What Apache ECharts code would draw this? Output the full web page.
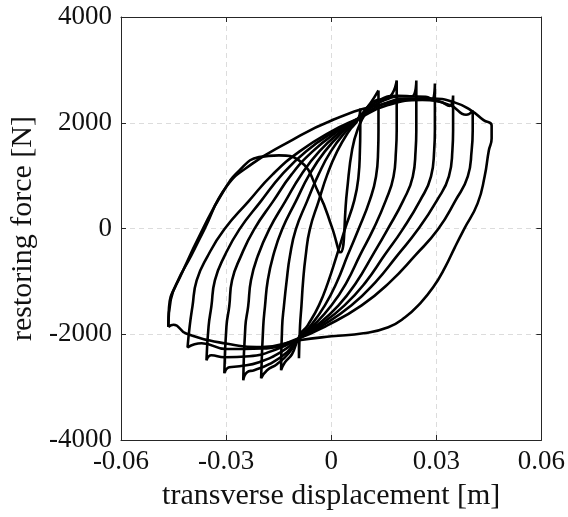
<!DOCTYPE html>
<html><head><meta charset="utf-8">
<script src="https://cdn.jsdelivr.net/npm/echarts@6/dist/echarts.min.js"></script>
<style>html,body{margin:0;padding:0;background:#fff}#c{width:568px;height:517px}</style>
</head><body><div id="c"></div>
<script>
// ---- Tick labels / titles ----
const xTickLabels = ['-0.06', '-0.03', '0', '0.03', '0.06'];
const yTickLabels = ['-4000', '-2000', '0', '2000', '4000'];
const xTitle = 'transverse displacement [m]';
const yTitle = 'restoring force [N]';

// ---- Outer loop (displacement [m], force [N]) ----
const outerUpper = [[-0.0465,-1860],[-0.0463,-1490],[-0.0440,-1020],[-0.0400,-520],[-0.0362,-16],[-0.0300,783],[-0.0225,1226],[-0.0130,1604],[0.0001,2044],[0.0154,2360],[0.0285,2460],[0.0350,2390],[0.0400,2230],[0.0435,2050],[0.0458,1950]];
const outerLower = [[0.0458,1950],[0.0458,1700],[0.0450,1477],[0.0438,985],[0.0418,475],[0.0379,-16],[0.0353,-356],[0.0325,-735],[0.0291,-1113],[0.0254,-1415],[0.0211,-1679],[0.0163,-1868],[0.0092,-1982],[0.0001,-2039],[-0.0092,-2114],[-0.0197,-2240],[-0.0300,-2176],[-0.0414,-1987],[-0.0450,-1820],[-0.0465,-1860]];

// ---- Initial transient path ----
const transient = [[-0.0465,-1860],[-0.0458,-1350],[-0.0430,-900],[-0.0368,-30],[-0.0308,700],[-0.0262,1099],[-0.0206,1350],[-0.0149,1383],[-0.0092,1288],[-0.0035,659],[0.0002,27],[0.0026,-450],[0.0045,700],[0.0060,1500],[0.0078,1917],[0.0100,2200]];

// ---- Right arcs: right turning point -> lower pinch ----
const rightArc1 = [[0.0404,2233],[0.0404,1855],[0.0401,1477],[0.0390,985],[0.0355,532],[0.0305,-16],[0.0240,-508],[0.0167,-1018],[0.0087,-1453],[-0.0011,-1831],[-0.0092,-2076]];
const rightArc2 = [[0.0348,2516],[0.0348,1855],[0.0346,1477],[0.0336,985],[0.0302,532],[0.0248,-16],[0.0189,-508],[0.0126,-1018],[0.0058,-1453],[-0.0024,-1831],[-0.0092,-2076]];
const rightArc3 = [[0.0296,2743],[0.0296,1855],[0.0294,1477],[0.0285,985],[0.0254,532],[0.0204,-16],[0.0152,-508],[0.0098,-1018],[0.0038,-1453],[-0.0033,-1831],[-0.0092,-2076]];
const rightArc4 = [[0.0243,2800],[0.0243,1855],[0.0241,1477],[0.0233,985],[0.0206,532],[0.0161,-16],[0.0118,-508],[0.0072,-1018],[0.0021,-1453],[-0.0041,-1831],[-0.0092,-2076]];
const rightArc5 = [[0.0187,2800],[0.0187,1855],[0.0185,1477],[0.0178,985],[0.0156,532],[0.0120,-16],[0.0082,-508],[0.0044,-1018],[0.0001,-1453],[-0.0050,-1831],[-0.0092,-2076]];
const rightArc6 = [[0.0135,2611],[0.0135,1855],[0.0134,1477],[0.0128,985],[0.0110,532],[0.0078,-16],[0.0047,-508],[0.0016,-1018],[-0.0018,-1453],[-0.0058,-1831],[-0.0092,-2076]];
const rightArc7 = [[0.0083,2271],[0.0083,1855],[0.0082,1477],[0.0078,985],[0.0066,532],[0.0039,-16],[0.0016,-508],[-0.0009,-1018],[-0.0035,-1453],[-0.0067,-1831],[-0.0092,-2076]];

// ---- Lower segments: lower pinch -> left turning point ----
const lowerSeg1 = [[-0.0197,-2270],[-0.0299,-2280],[-0.0370,-2170],[-0.0410,-2246]];
const lowerSeg2 = [[-0.0149,-2265],[-0.0234,-2416],[-0.0305,-2435],[-0.0342,-2397],[-0.0356,-2491]];
const lowerSeg3 = [[-0.0135,-2302],[-0.0206,-2529],[-0.0262,-2605],[-0.0291,-2624],[-0.0305,-2737]];
const lowerSeg4 = [[-0.0126,-2340],[-0.0177,-2567],[-0.0220,-2680],[-0.0240,-2718],[-0.0251,-2869]];
const lowerSeg5 = [[-0.0121,-2359],[-0.0155,-2567],[-0.0183,-2680],[-0.0200,-2831]];
const lowerSeg6 = [[-0.0112,-2378],[-0.0132,-2529],[-0.0143,-2680]];
const lowerSeg7 = [[-0.0092,-2454]];

// ---- Left arcs: left turning point -> upper pinch ----
const leftArc1 = [[-0.0410,-2246],[-0.0404,-1850],[-0.0396,-1472],[-0.0384,-980],[-0.0353,-527],[-0.0305,-16],[-0.0236,513],[-0.0167,1023],[-0.0090,1458],[0.0001,1836],[0.0078,2082]];
const leftArc2 = [[-0.0356,-2491],[-0.0350,-1850],[-0.0342,-1472],[-0.0332,-980],[-0.0305,-527],[-0.0262,-16],[-0.0201,513],[-0.0140,1023],[-0.0072,1458],[0.0010,1836],[0.0078,2082]];
const leftArc3 = [[-0.0305,-2737],[-0.0299,-1850],[-0.0291,-1472],[-0.0283,-980],[-0.0258,-527],[-0.0220,-16],[-0.0166,513],[-0.0113,1023],[-0.0053,1458],[0.0018,1836],[0.0078,2082]];
const leftArc4 = [[-0.0251,-2869],[-0.0245,-1850],[-0.0237,-1472],[-0.0229,-980],[-0.0210,-527],[-0.0177,-16],[-0.0131,513],[-0.0085,1023],[-0.0034,1458],[0.0027,1836],[0.0078,2082]];
const leftArc5 = [[-0.0200,-2831],[-0.0194,-1850],[-0.0189,-1472],[-0.0181,-980],[-0.0166,-527],[-0.0140,-16],[-0.0101,513],[-0.0062,1023],[-0.0018,1458],[0.0034,1836],[0.0078,2082]];
const leftArc6 = [[-0.0143,-2680],[-0.0140,-1850],[-0.0135,-1472],[-0.0127,-980],[-0.0118,-527],[-0.0101,-16],[-0.0069,513],[-0.0036,1023],[-0.0001,1458],[0.0042,1836],[0.0078,2082]];
const leftArc7 = [[-0.0092,-2454],[-0.0089,-1850],[-0.0085,-1472],[-0.0080,-980],[-0.0073,-527],[-0.0061,-16],[-0.0036,513],[-0.0011,1023],[0.0017,1458],[0.0050,1836],[0.0078,2082]];

// ---- Upper segments: upper pinch -> right turning point ----
const upperSeg1 = [[0.0160,2330],[0.0260,2430],[0.0340,2330],[0.0385,2150],[0.0404,2233]];
const upperSeg2 = [[0.0150,2360],[0.0240,2460],[0.0310,2400],[0.0338,2320],[0.0348,2516]];
const upperSeg3 = [[0.0140,2390],[0.0220,2500],[0.0270,2490],[0.0288,2450],[0.0296,2743]];
const upperSeg4 = [[0.0130,2400],[0.0190,2510],[0.0230,2500],[0.0243,2800]];
const upperSeg5 = [[0.0120,2400],[0.0165,2480],[0.0187,2800]];
const upperSeg6 = [[0.0110,2350],[0.0135,2611]];
const upperSeg7 = [[0.0083,2271]];

const rightArcs = [rightArc1, rightArc2, rightArc3, rightArc4, rightArc5, rightArc6, rightArc7];
const lowerSegs = [lowerSeg1, lowerSeg2, lowerSeg3, lowerSeg4, lowerSeg5, lowerSeg6, lowerSeg7];
const leftArcs = [leftArc1, leftArc2, leftArc3, leftArc4, leftArc5, leftArc6, leftArc7];
const upperSegs = [upperSeg1, upperSeg2, upperSeg3, upperSeg4, upperSeg5, upperSeg6, upperSeg7];

// each inner cycle = right arc + lower segment + left arc + upper segment
const loops = rightArcs.map((r, i) => [...r, ...lowerSegs[i], ...leftArcs[i].slice(1), ...upperSegs[i]]);
const paths = [[...outerUpper, ...outerLower.slice(1)], transient, ...loops];

const FONT = "'Liberation Serif', 'Times New Roman', serif";
const chart = echarts.init(document.getElementById('c'), null, {renderer: 'canvas'});

const xLab = v => { const i = Math.round((v + 0.06) / 0.03); return xTickLabels[i] ?? ''; };
const yLab = v => { const i = Math.round((v + 4000) / 2000); return yTickLabels[i] ?? ''; };

const frameAxis = {
  axisLine: {show: true, onZero: false, lineStyle: {color: '#262626', width: 1}},
  axisTick: {show: true, inside: true, length: 5, lineStyle: {color: '#262626'}},
};
const dashGrid = {show: true, lineStyle: {color: '#dcdcdc', type: [5, 4], width: 1}};

chart.setOption({
  animation: false,
  backgroundColor: '#fff',
  grid: {left: 121, right: 24, top: 17, bottom: 77, show: false},
  xAxis: [
    Object.assign({
      type: 'value', min: -0.06, max: 0.06, interval: 0.03, position: 'bottom',
      name: xTitle, nameLocation: 'middle', nameGap: 41,
      nameTextStyle: {fontFamily: FONT, fontSize: 30, color: '#111'},
      axisLabel: {formatter: xLab, fontFamily: FONT, fontSize: 27, color: '#111', margin: 8},
      splitLine: dashGrid
    }, frameAxis),
    Object.assign({
      type: 'value', min: -0.06, max: 0.06, interval: 0.03, position: 'top',
      axisLabel: {show: false}, splitLine: {show: false}
    }, frameAxis)
  ],
  yAxis: [
    Object.assign({
      type: 'value', min: -4000, max: 4000, interval: 2000, position: 'left',
      name: yTitle, nameLocation: 'middle', nameGap: 69,
      nameTextStyle: {fontFamily: FONT, fontSize: 30, color: '#111'},
      axisLabel: {formatter: yLab, fontFamily: FONT, fontSize: 27, color: '#111', margin: 9},
      splitLine: dashGrid
    }, frameAxis),
    Object.assign({
      type: 'value', min: -4000, max: 4000, interval: 2000, position: 'right',
      axisLabel: {show: false}, splitLine: {show: false}
    }, frameAxis)
  ],
  series: paths.map(d => ({
    type: 'line', data: d, xAxisIndex: 0, yAxisIndex: 0,
    showSymbol: false, smooth: 0.5, clip: true,
    lineStyle: {color: '#000', width: 2.6}
  }))
});
</script></body></html>
